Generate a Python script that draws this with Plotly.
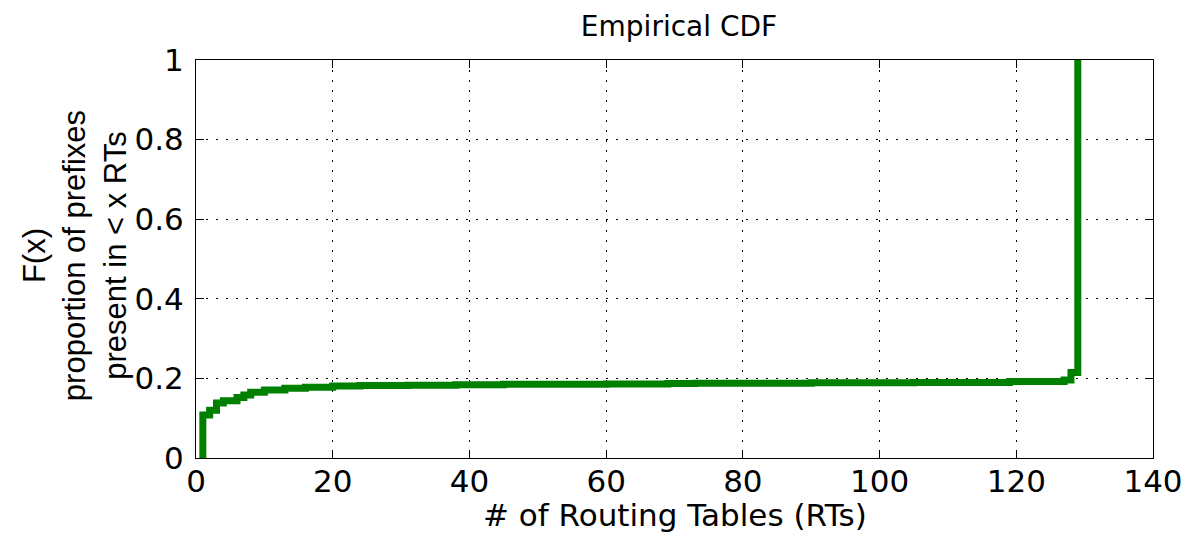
import plotly.graph_objects as go

# Number of routing tables (step positions) and ECDF values
num_rts = [1, 2, 3, 4, 6, 7, 8, 10, 13, 16, 20, 24, 31, 38, 45, 60, 69, 73, 90, 105, 119, 127, 128, 129]
cdf_vals = [0.108, 0.12, 0.138, 0.144, 0.152, 0.158, 0.165, 0.171, 0.175, 0.178, 0.181, 0.182,
            0.183, 0.184, 0.185, 0.186, 0.187, 0.188, 0.189, 0.190, 0.192, 0.196, 0.215, 1.0]

x_ticks = [0, 20, 40, 60, 80, 100, 120, 140]
y_ticks = [0, 0.2, 0.4, 0.6, 0.8, 1]
y_tick_labels = ["0", "0.2", "0.4", "0.6", "0.8", "1"]

xs = [num_rts[0]] + num_rts
ys = [0] + cdf_vals

WIDE = "DejaVu Sans, Verdana, sans-serif"
NARROW = "Liberation Sans, Arial, Helvetica, sans-serif"

# page has an 8px body margin; figure is sized to fit the window
W, H = 1187, 529
L, R, T, B = 188, 33, 52, 79
PW, PH = W - L - R, H - T - B
OX, OY = 8 + L, 8 + T  # page position of plot's top-left corner

fig = go.Figure()
fig.add_trace(go.Scatter(
    x=xs, y=ys, mode="lines", line_shape="hv",
    line=dict(color="rgb(0,128,0)", width=7),
    showlegend=False, hoverinfo="skip",
))

axis_common = dict(
    showline=True, linecolor="black", linewidth=1, mirror="ticks",
    ticks="inside", ticklen=8, tickcolor="black", tickwidth=1,
    showgrid=True, gridcolor="black", gridwidth=1, griddash="2px,8px",
    zeroline=False,
    tickfont=dict(family=WIDE, size=31, color="black"),
)

fig.update_xaxes(range=[0, 140], tickvals=x_ticks, ticktext=[str(v) for v in x_ticks],
                 ticklabelstandoff=-4, **axis_common)
fig.update_yaxes(range=[0, 1], tickvals=y_ticks, ticktext=y_tick_labels,
                 ticklabelstandoff=5, **axis_common)

# x axis title
fig.add_annotation(
    text="# of Routing Tables (RTs)", xref="paper", yref="paper",
    x=0.5, y=-(515 - (OY + PH)) / PH, xanchor="center", yanchor="middle",
    showarrow=False, font=dict(family=WIDE, size=31, color="black"),
)
# y axis title (three lines, rotated)
fig.add_annotation(
    text="F(x)<br>proportion of prefixes<br>present in < x RTs",
    xref="paper", yref="paper", textangle=-90,
    x=(74 - OX) / PW, y=(OY + PH - 256) / PH, xanchor="center", yanchor="middle",
    showarrow=False, font=dict(family=NARROW, size=31, color="black"),
)

fig.update_layout(
    width=W, height=H,
    margin=dict(l=L, r=R, t=T, b=B),
    paper_bgcolor="white", plot_bgcolor="white",
    title=dict(text="Empirical CDF", x=(L + PW / 2) / W, xanchor="center",
               y=1 - (26 - 8) / H, yanchor="middle", yref="container",
               font=dict(family=WIDE, size=28, color="black")),
)

fig.write_html("out.html")
